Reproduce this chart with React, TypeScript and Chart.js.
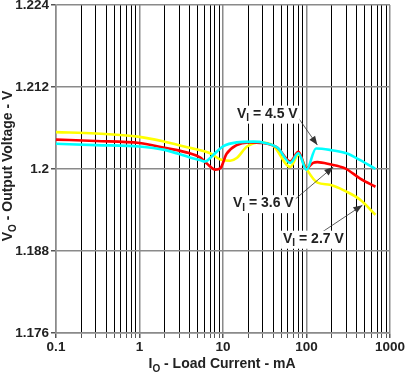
import React, { useEffect, useRef } from "react";
import { Chart, registerables } from "chart.js";

Chart.register(...registerables);

// ---- data ----
const cyanX = [0.1, 0.3, 1, 2, 4, 5.3, 6.1, 7.7, 10, 14.6, 23, 32, 45, 64, 80, 100, 130, 190, 300, 440, 670];
const cyanY = [1.2037, 1.2035, 1.2033, 1.2028, 1.2017, 1.2013, 1.2011, 1.2021, 1.2033, 1.2039, 1.204, 1.2038, 1.2031, 1.2009, 1.2023, 1.1999, 1.203, 1.2028, 1.2023, 1.2013, 1.2];

const redX = [0.1, 0.3, 1, 2, 4, 5.3, 6.4, 8.1, 9.3, 11, 14.6, 20, 30, 45, 64, 80, 100, 120, 135, 190, 290, 440, 670];
const redY = [1.2043, 1.2041, 1.2038, 1.2031, 1.2023, 1.2017, 1.2008, 1.1999, 1.2001, 1.2022, 1.2035, 1.2039, 1.2038, 1.2031, 1.2011, 1.2025, 1.2001, 1.2009, 1.201, 1.2007, 1.2001, 1.1986, 1.1974];

const yellowX = [0.1, 0.3, 1, 2, 4, 7, 9.3, 12.2, 14.6, 19.4, 27.5, 40, 64, 80, 100, 135, 190, 300, 440, 670];
const yellowY = [1.2054, 1.2052, 1.2047, 1.204, 1.2031, 1.2023, 1.2014, 1.2012, 1.2016, 1.2033, 1.2039, 1.2034, 1.2003, 1.2021, 1.2, 1.198, 1.1977, 1.1967, 1.1955, 1.1933];

const seriesLabels = ["4.5 V", "3.6 V", "2.7 V"];
const yTicks = [1.176, 1.188, 1.2, 1.212, 1.224];
const xTickLabels = ["0.1", "1", "10", "100", "1000"];

// annotation anchors (in data units)
const annotations = [
  { text: "4.5 V", tx: 33.9, ty: 1.2081, x0: 79.7, y0: 1.2075, x1: 135, y1: 1.2035 },
  { text: "3.6 V", tx: 30.4, ty: 1.195, x0: 73.5, y0: 1.1956, x1: 209, y1: 1.2003 },
  { text: "2.7 V", tx: 121, ty: 1.1898, x0: 146.6, y0: 1.1906, x1: 467, y1: 1.1947 },
];

const FONT = "'Liberation Sans', Arial, sans-serif";
const TXT = "#222";

type Part = { t: string; sub?: boolean };

function drawParts(ctx: CanvasRenderingContext2D, parts: Part[], cx: number, cy: number, box: boolean) {
  const big = `bold 14px ${FONT}`;
  const small = `bold 10px ${FONT}`;
  let w = 0;
  const widths = parts.map((p) => {
    ctx.font = p.sub ? small : big;
    const m = ctx.measureText(p.t).width;
    w += m;
    return m;
  });
  let x = cx - w / 2;
  if (box) {
    ctx.fillStyle = "#fff";
    ctx.fillRect(x - 2, cy - 8, w + 4, 18);
  }
  ctx.textBaseline = "middle";
  ctx.textAlign = "left";
  ctx.fillStyle = TXT;
  parts.forEach((p, i) => {
    ctx.font = p.sub ? small : big;
    ctx.fillText(p.t, x, p.sub ? cy + 5 : cy);
    x += widths[i];
  });
}

const overlayPlugin = {
  id: "overlay",
  afterDraw(chart: any) {
    const ctx: CanvasRenderingContext2D = chart.ctx;
    const xs = chart.scales.x;
    const ys = chart.scales.y;
    ctx.save();
    annotations.forEach((a) => {
      const px0 = xs.getPixelForValue(a.x0);
      const py0 = ys.getPixelForValue(a.y0);
      const px1 = xs.getPixelForValue(a.x1);
      const py1 = ys.getPixelForValue(a.y1);
      ctx.strokeStyle = "#333";
      ctx.fillStyle = "#333";
      ctx.lineWidth = 0.8;
      ctx.beginPath();
      ctx.moveTo(px0, py0);
      ctx.lineTo(px1, py1);
      ctx.stroke();
      const ang = Math.atan2(py1 - py0, px1 - px0);
      const L = 9, W = 3.5;
      ctx.beginPath();
      ctx.moveTo(px1, py1);
      ctx.lineTo(px1 - L * Math.cos(ang) + W * Math.sin(ang), py1 - L * Math.sin(ang) - W * Math.cos(ang));
      ctx.lineTo(px1 - L * Math.cos(ang) - W * Math.sin(ang), py1 - L * Math.sin(ang) + W * Math.cos(ang));
      ctx.closePath();
      ctx.fill();
      drawParts(
        ctx,
        [{ t: "V" }, { t: "I", sub: true }, { t: " = " + a.text }],
        xs.getPixelForValue(a.tx),
        ys.getPixelForValue(a.ty),
        true
      );
    });
    // axis titles
    drawParts(ctx, [{ t: "I" }, { t: "O", sub: true }, { t: " - Load Current - mA" }], 222, 364, false);
    ctx.save();
    ctx.translate(8, 166);
    ctx.rotate(-Math.PI / 2);
    drawParts(ctx, [{ t: "V" }, { t: "O", sub: true }, { t: " - Output Voltage - V" }], 0, 0, false);
    ctx.restore();
    ctx.restore();
  },
};

function pts(xs: number[], ys: number[]) {
  return xs.map((x, i) => ({ x, y: ys[i] }));
}

export default function App() {
  const ref = useRef<HTMLCanvasElement>(null);
  useEffect(() => {
    if (!ref.current) return;
    const mk = (label: string, data: any, color: string) => ({
      label,
      data,
      borderColor: color,
      backgroundColor: color,
      borderWidth: 2.6,
      pointRadius: 0,
      tension: 0.4,
      cubicInterpolationMode: "monotone" as const,
      fill: false,
    });
    const chart = new Chart(ref.current, {
      type: "line",
      data: {
        datasets: [
          mk(seriesLabels[0], pts(cyanX, cyanY), "#00FFFF"),
          mk(seriesLabels[1], pts(redX, redY), "#FF0000"),
          mk(seriesLabels[2], pts(yellowX, yellowY), "#FFFF00"),
        ],
      },
      options: {
        animation: false,
        responsive: false,
        devicePixelRatio: 1,
        layout: { padding: { left: 0, right: 15, top: 5, bottom: 0 } },
        plugins: { legend: { display: false }, tooltip: { enabled: false } },
        scales: {
          x: {
            type: "logarithmic",
            min: 0.1,
            max: 1000,
            afterBuildTicks: (s: any) => {
              const t: any[] = [];
              for (let e = -1; e <= 2; e++) {
                for (let m = 1; m <= 9; m++) t.push({ value: m * Math.pow(10, e), major: m === 1 });
              }
              t.push({ value: 1000, major: true });
              s.ticks = t;
            },
            afterFit: (s: any) => {
              s.height = 44;
              s.paddingLeft = 0;
              s.paddingRight = 0;
            },
            ticks: {
              autoSkip: false,
              maxRotation: 0,
              padding: 1,
              color: TXT,
              font: { family: FONT, size: 13.5, weight: "bold" },
              callback: function (this: any, v: any, i: number, ticks: any[]) {
                const d = Math.round(Math.log10(ticks[i].value));
                return ticks[i].major ? xTickLabels[d + 1] : "";
              },
            },
            grid: {
              color: (c: any) => (c.tick && c.tick.major ? "#8a8a8a" : "#000"),
              tickColor: "#555",
              tickLength: 5,
              lineWidth: (c: any) => (c.tick && c.tick.major ? 1.5 : 1),
            },
            border: { color: "#8a8a8a", width: 1.5 },
          },
          y: {
            type: "linear",
            min: 1.176,
            max: 1.224,
            afterBuildTicks: (s: any) => {
              s.ticks = yTicks.map((v) => ({ value: v }));
            },
            afterFit: (s: any) => {
              s.width = 56;
              s.paddingTop = 0;
              s.paddingBottom = 0;
            },
            ticks: {
              padding: 2,
              color: TXT,
              font: { family: FONT, size: 13.5, weight: "bold" },
              callback: (v: any) => String(+Number(v).toFixed(3)),
            },
            grid: { color: "#8a8a8a", tickColor: "#555", tickLength: 5, lineWidth: 1.5 },
            border: { color: "#8a8a8a", width: 1.5 },
          },
        },
      },
      plugins: [overlayPlugin],
    } as any);
    return () => chart.destroy();
  }, []);
  return (
    <div style={{ position: "fixed", left: 0, top: 0, width: 405, height: 377, background: "#fff" }}>
      <canvas ref={ref} width={405} height={377} style={{ width: 405, height: 377, display: "block" }} />
    </div>
  );
}
